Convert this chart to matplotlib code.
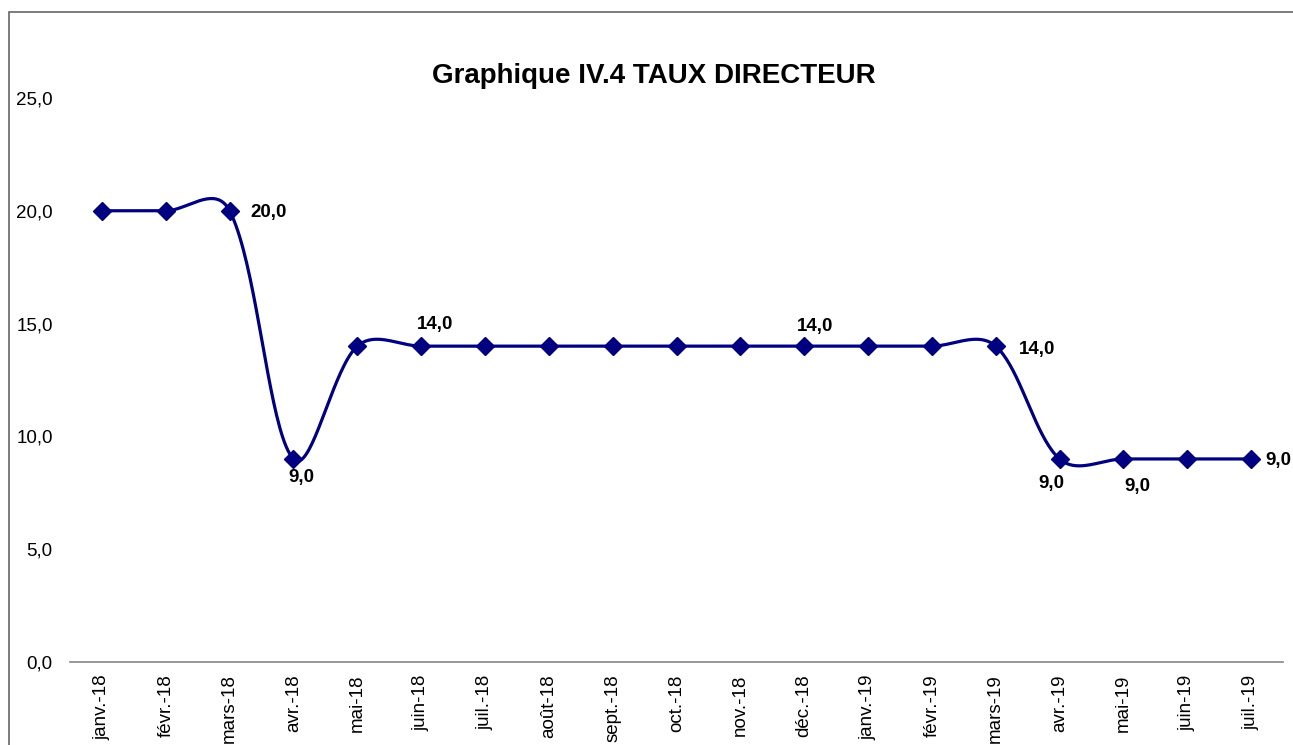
import matplotlib
matplotlib.use("Agg")
import matplotlib.pyplot as plt
from matplotlib.patches import Rectangle
import numpy as np

plt.rcParams['font.family'] = ['Liberation Sans', 'DejaVu Sans']

# months and policy rate values
mois = ['janv.-18', 'févr.-18', 'mars-18', 'avr.-18', 'mai-18', 'juin-18',
        'juil.-18', 'août-18', 'sept.-18', 'oct.-18', 'nov.-18', 'déc.-18',
        'janv.-19', 'févr.-19', 'mars-19', 'avr.-19', 'mai-19', 'juin-19',
        'juil.-19']
taux = [20.0, 20.0, 20.0, 9.0, 14.0, 14.0, 14.0, 14.0, 14.0, 14.0, 14.0,
        14.0, 14.0, 14.0, 14.0, 9.0, 9.0, 9.0, 9.0]

# which points get a data label and where (offset in points, alignment)
labels_idx = [2, 3, 5, 11, 14, 15, 16, 18]
labels_off = {2: (15, -1.5, 'left', 'center'),
              3: (6, -13.5, 'center', 'center'),
              5: (10, 15.5, 'center', 'center'),
              11: (8, 14, 'center', 'center'),
              14: (16.5, -2.5, 'left', 'center'),
              15: (-6, -18, 'center', 'center'),
              16: (10, -20, 'center', 'center'),
              18: (10, -1, 'left', 'center')}


def smooth(pts, n=40):
    # smoothed line a la excel: bezier segments, control points weighted by
    # sqrt of the screen distance to the neighbours (done in pixel space)
    pts = np.asarray(pts, float)
    out = []
    m = len(pts)
    for i in range(m - 1):
        p0 = pts[max(i - 1, 0)]
        p1 = pts[i]
        p2 = pts[i + 1]
        p3 = pts[min(i + 2, m - 1)]
        d01 = np.sqrt(np.hypot(*(p1 - p0)))
        d12 = np.sqrt(np.hypot(*(p2 - p1)))
        d23 = np.sqrt(np.hypot(*(p3 - p2)))
        f1 = d12 / (d01 + d12) / 3 if d01 + d12 > 0 else 0
        f2 = d12 / (d12 + d23) / 3 if d12 + d23 > 0 else 0
        c1 = p1 + (p2 - p0) * f1
        c2 = p2 - (p3 - p1) * f2
        t = np.linspace(0, 1, n)[:, None]
        seg = (1 - t) ** 3 * p1 + 3 * (1 - t) ** 2 * t * c1 + 3 * (1 - t) * t ** 2 * c2 + t ** 3 * p2
        out.append(seg)
    return np.vstack(out)


fig = plt.figure(figsize=(12.93, 7.45), dpi=100)
ax = fig.add_axes([70 / 1293, 0.1114, 1213 / 1293, 0.7571])

xpos = np.arange(len(mois))
ax.set_xlim(-0.5, len(mois) - 0.5)
ax.set_ylim(0, 25)

disp = ax.transData.transform(np.column_stack([xpos, taux]))
curve = ax.transData.inverted().transform(smooth(disp))
ax.plot(curve[:, 0], curve[:, 1], color='#000080', lw=2.3, zorder=2)
ax.plot(xpos, taux, ls='none', marker='D', ms=9, color='#000080', zorder=3)

for i in labels_idx:
    dx, dy, ha, va = labels_off[i]
    ax.annotate(('%.1f' % taux[i]).replace('.', ','), (xpos[i], taux[i]),
                xytext=(dx, dy), textcoords='offset points', ha=ha, va=va,
                fontsize=13.5, fontweight='bold', color='black')

ax.set_yticks(np.arange(0, 26, 5))
ax.set_yticklabels([('%.1f' % v).replace('.', ',') for v in np.arange(0, 26, 5)])
ax.set_xticks(xpos)
ax.set_xticklabels(mois, rotation=90, va='top')
ax.tick_params(axis='y', length=0, pad=12.5, labelsize=13.5)
ax.tick_params(axis='x', length=0, pad=9, labelsize=13.5)
for s in ['top', 'right', 'left']:
    ax.spines[s].set_visible(False)
ax.spines['bottom'].set_color('#868686')
ax.spines['bottom'].set_linewidth(1.2)

fig.text(0.506, 0.898, 'Graphique IV.4 TAUX DIRECTEUR', ha='center', va='center',
         fontsize=20, fontweight='bold')

# outer chart border (cut off at the right and bottom like the source)
fig.patches.append(Rectangle((9 / 1293, -0.05), 1.1, 1 - 12 / 745 + 0.05,
                             transform=fig.transFigure, fill=False,
                             edgecolor='#666666', lw=1.2))

fig.savefig('out.png', dpi=100)
